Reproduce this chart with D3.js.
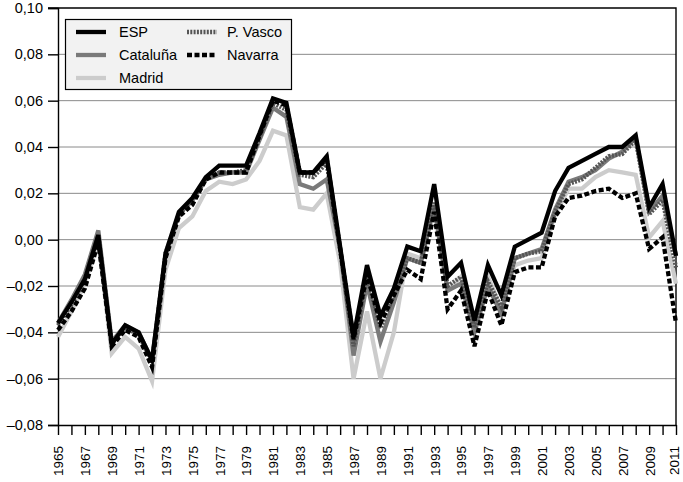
<!DOCTYPE html>
<html>
<head>
<meta charset="utf-8">
<script src="https://cdn.jsdelivr.net/npm/d3@7"></script>
<style>
  body { margin: 0; background: #fff; }
  text { font-family: "Liberation Sans", Arial, sans-serif; fill: #000; }
</style>
</head>
<body>
<svg width="683" height="482"></svg>
<script>
// años del eje x
const anios = d3.range(1965, 2012);

// series
const esp = [-0.036, -0.027, -0.017, 0.002, -0.045, -0.037, -0.040, -0.052, -0.006, 0.012,
  0.018, 0.027, 0.032, 0.032, 0.032, 0.046, 0.061, 0.059, 0.029, 0.029,
  0.036, -0.003, -0.042, -0.011, -0.033, -0.021, -0.003, -0.005, 0.024, -0.016,
  -0.010, -0.035, -0.011, -0.024, -0.003, 0.000, 0.003, 0.021, 0.031, 0.034,
  0.037, 0.040, 0.040, 0.045, 0.014, 0.024, -0.007];
const cataluna = [-0.036, -0.026, -0.015, 0.004, -0.044, -0.037, -0.040, -0.052, -0.007, 0.011,
  0.017, 0.026, 0.028, 0.029, 0.029, 0.043, 0.057, 0.053, 0.024, 0.022,
  0.026, -0.004, -0.050, -0.019, -0.044, -0.027, -0.008, -0.010, 0.014, -0.022,
  -0.019, -0.040, -0.020, -0.032, -0.008, -0.006, -0.004, 0.013, 0.025, 0.027,
  0.030, 0.035, 0.038, 0.044, 0.012, 0.019, -0.007];
const madrid = [-0.042, -0.031, -0.019, 0.000, -0.049, -0.042, -0.047, -0.061, -0.013, 0.005,
  0.010, 0.021, 0.025, 0.024, 0.026, 0.034, 0.047, 0.045, 0.014, 0.013,
  0.020, -0.010, -0.060, -0.031, -0.060, -0.040, -0.006, -0.008, 0.015, -0.022,
  -0.016, -0.038, -0.016, -0.030, -0.011, -0.009, -0.008, 0.011, 0.022, 0.022,
  0.027, 0.030, 0.029, 0.028, 0.001, 0.008, -0.019];
const pVasco = [-0.037, -0.028, -0.017, 0.002, -0.045, -0.038, -0.041, -0.053, -0.006, 0.011,
  0.017, 0.026, 0.029, 0.029, 0.030, 0.044, 0.059, 0.056, 0.028, 0.027,
  0.033, -0.004, -0.046, -0.016, -0.038, -0.024, -0.008, -0.010, 0.016, -0.020,
  -0.016, -0.038, -0.018, -0.029, -0.008, -0.006, -0.005, 0.012, 0.024, 0.026,
  0.031, 0.036, 0.037, 0.043, 0.011, 0.017, -0.012];
const navarra = [-0.039, -0.031, -0.021, -0.001, -0.046, -0.039, -0.042, -0.055, -0.008, 0.010,
  0.015, 0.026, 0.029, 0.029, 0.029, 0.045, 0.060, 0.058, 0.029, 0.029,
  0.035, -0.004, -0.043, -0.015, -0.036, -0.024, -0.013, -0.017, 0.012, -0.030,
  -0.022, -0.046, -0.022, -0.037, -0.014, -0.012, -0.012, 0.010, 0.018, 0.019,
  0.021, 0.022, 0.018, 0.020, -0.004, 0.001, -0.036];

const ticksY = [-0.08, -0.06, -0.04, -0.02, 0, 0.02, 0.04, 0.06, 0.08, 0.10];

// orden de dibujo: las grises debajo, las negras arriba
const series = [
  { nombre: "Madrid", valores: madrid, color: "#cccccc", guion: null },
  { nombre: "Cataluña", valores: cataluna, color: "#7a7a7a", guion: null },
  { nombre: "P. Vasco", valores: pVasco, color: "#555555", guion: "2,1.3" },
  { nombre: "ESP", valores: esp, color: "#000000", guion: null },
  { nombre: "Navarra", valores: navarra, color: "#000000", guion: "5,2.5" }
];

const svg = d3.select("svg");
const izq = 58, der = 676, arriba = 8, abajo = 425;

const x = d3.scaleLinear().domain([1965, 2011]).range([izq, der]);
const y = d3.scaleLinear().domain([-0.08, 0.10]).range([abajo, arriba]);

// líneas de cuadrícula
svg.append("g")
  .selectAll("line")
  .data(ticksY.filter(d => d > -0.08 && d < 0.10))
  .enter()
  .append("line")
  .attr("x1", izq)
  .attr("x2", der)
  .attr("y1", d => y(d))
  .attr("y2", d => y(d))
  .attr("stroke", "#8a8a8a")
  .attr("stroke-width", 1);

// marco superior y derecho
svg.append("path")
  .attr("d", `M${izq - 10},${y(0.10)}H${der}V${abajo}`)
  .attr("fill", "none")
  .attr("stroke", "#000")
  .attr("stroke-width", 1.4);

// eje y
const fmt = d => (d < 0 ? "\u2013" : "") + Math.abs(d).toFixed(2).replace(".", ",");
const ejeY = svg.append("g")
  .attr("transform", `translate(${izq},0)`)
  .call(d3.axisLeft(y).tickValues(ticksY).tickSize(10).tickPadding(5).tickFormat(fmt));
ejeY.select(".domain").attr("stroke", "#000").attr("stroke-width", 1.4);
ejeY.selectAll(".tick line").attr("stroke", "#000").attr("stroke-width", 1.4);
ejeY.selectAll("text")
  .style("font-family", "'Liberation Sans', Arial, sans-serif")
  .style("font-size", "14.5px")
  .attr("fill", "#000");

// eje x
const ejeX = svg.append("g")
  .attr("transform", `translate(0,${abajo})`)
  .call(d3.axisBottom(x).tickValues(anios).tickSize(10).tickSizeOuter(0)
    .tickFormat(d => (d % 2 === 1 ? d : "")));
ejeX.select(".domain").attr("stroke", "#000").attr("stroke-width", 1.4);
ejeX.selectAll(".tick line").attr("stroke", "#000").attr("stroke-width", 1.4);
ejeX.selectAll("text")
  .style("font-family", "'Liberation Sans', Arial, sans-serif")
  .style("font-size", "13.5px")
  .attr("fill", "#000")
  .attr("text-anchor", "end")
  .attr("transform", "rotate(-90)")
  .attr("x", -21)
  .attr("y", 0)
  // el último año se corre un poco para que no se corte en el borde
  .attr("dy", d => d === 2011 ? "0.2em" : "0.36em");

// líneas de las series
const linea = d3.line()
  .x((d, i) => x(anios[i]))
  .y(d => y(d));

svg.append("g")
  .selectAll("path")
  .data(series)
  .enter()
  .append("path")
  .attr("d", d => linea(d.valores))
  .attr("fill", "none")
  .attr("stroke", d => d.color)
  .attr("stroke-width", 4.3)
  .attr("stroke-linejoin", "miter")
  .attr("stroke-dasharray", d => d.guion);

// leyenda
const leyenda = svg.append("g");
leyenda.append("rect")
  .attr("x", 65.5)
  .attr("y", 19.5)
  .attr("width", 226)
  .attr("height", 70)
  .attr("fill", "#f2f2f2")
  .attr("stroke", "#000")
  .attr("stroke-width", 1.2);

const itemsLeyenda = [
  { nombre: "ESP", col: 0, fila: 0 },
  { nombre: "Cataluña", col: 0, fila: 1 },
  { nombre: "Madrid", col: 0, fila: 2 },
  { nombre: "P. Vasco", col: 1, fila: 0 },
  { nombre: "Navarra", col: 1, fila: 1 }
];

const items = leyenda.selectAll(".item")
  .data(itemsLeyenda)
  .enter()
  .append("g")
  .attr("class", "item")
  .attr("transform", d => `translate(${d.col ? 187 : 76},${32 + d.fila * 23})`);

items.append("line")
  .attr("x1", 0)
  .attr("x2", 30)
  .attr("stroke", d => series.find(s => s.nombre === d.nombre).color)
  .attr("stroke-width", 4.3)
  .attr("stroke-dasharray", d => series.find(s => s.nombre === d.nombre).guion);

items.append("text")
  .attr("x", d => d.col ? 40 : 43)
  .attr("dy", "0.35em")
  .style("font-size", "14.5px")
  .text(d => d.nombre);
</script>
</body>
</html>
